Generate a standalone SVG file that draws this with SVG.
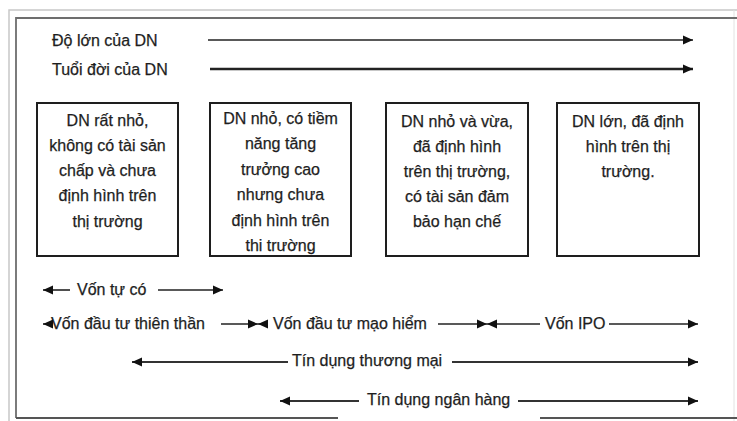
<svg xmlns="http://www.w3.org/2000/svg" width="737" height="421" viewBox="0 0 737 421">
  <style>
    text { font-family: "Liberation Sans", Arial, sans-serif; font-size: 16px; fill: #1e1e1e; stroke: #1e1e1e; stroke-width: 0.25; }
    .c { text-anchor: middle; }
    .box { fill: #fff; stroke: #1e1e1e; stroke-width: 2; }
    .ln { stroke: #222; stroke-width: 1.6; fill: none; }
    .thick { stroke-width: 2.6; }
    .mid { stroke-width: 2; stroke: #333; }
  </style>
  <defs>
    <marker id="head" markerUnits="userSpaceOnUse" markerWidth="11" markerHeight="10" refX="10" refY="5" orient="auto">
      <path d="M0,0.5 L10,5 L0,9.5 z" fill="#111"/>
    </marker>
  </defs>

  <rect width="737" height="421" fill="#fff"/>

  <!-- page frame -->
  <g id="frame" fill="none">
    <path d="M9,421 V10 H737" stroke="#c8c8c8" stroke-width="1.5"/>
    <path d="M734,10 V421" stroke="#e2e2e2" stroke-width="1"/>
    <path d="M16,418 V18 H737" stroke="#6e6e6e" stroke-width="1.8"/>
    <path d="M16,418 H338 M540,418 H737" stroke="#555" stroke-width="1.8"/>
  </g>

  <!-- axis labels -->
  <g id="size-axis">
    <text x="52" y="46">Độ lớn của DN</text>
  </g>
  <g id="age-axis">
    <text x="52" y="75">Tuổi đời của DN</text>
  </g>

  <!-- company stages -->
  <g id="stage-1">
    <rect class="box" x="37" y="103" width="141" height="153"/>
    <text class="c" x="107.5" y="126">DN rất nhỏ,</text>
    <text class="c" x="107.5" y="151">không có tài sản</text>
    <text class="c" x="107.5" y="176">chấp và chưa</text>
    <text class="c" x="107.5" y="201">định hình trên</text>
    <text class="c" x="107.5" y="227">thị trường</text>
  </g>
  <g id="stage-2">
    <rect class="box" x="210" y="103" width="141" height="153"/>
    <text class="c" x="280.5" y="124">DN nhỏ, có tiềm</text>
    <text class="c" x="280.5" y="149">năng tăng</text>
    <text class="c" x="280.5" y="175">trưởng cao</text>
    <text class="c" x="280.5" y="200">nhưng chưa</text>
    <text class="c" x="280.5" y="226">định hình trên</text>
    <text class="c" x="280.5" y="251">thi trường</text>
  </g>
  <g id="stage-3">
    <rect class="box" x="386" y="103" width="142" height="153"/>
    <text class="c" x="457" y="127">DN nhỏ và vừa,</text>
    <text class="c" x="457" y="152">đã định hình</text>
    <text class="c" x="457" y="177">trên thị trường,</text>
    <text class="c" x="457" y="202">có tài sản đảm</text>
    <text class="c" x="457" y="227">bảo hạn chế</text>
  </g>
  <g id="stage-4">
    <rect class="box" x="557" y="103" width="142" height="153"/>
    <text class="c" x="628" y="127">DN lớn, đã định</text>
    <text class="c" x="628" y="152">hình trên thị</text>
    <text class="c" x="628" y="177">trường.</text>
  </g>

  <!-- funding sources -->
  <g id="own-capital">
    <text x="77" y="295">Vốn tự có</text>
  </g>
  <g id="angel">
    <text x="51" y="329">Vốn đầu tư thiên thần</text>
  </g>
  <g id="venture">
    <text x="273" y="329">Vốn đầu tư mạo hiểm</text>
  </g>
  <g id="ipo">
    <text x="545" y="329">Vốn IPO</text>
  </g>
  <g id="trade-credit">
    <text x="292" y="366">Tín dụng thương mại</text>
  </g>
  <g id="bank-credit">
    <text x="367" y="405">Tín dụng ngân hàng</text>
  </g>

  <!-- connectors -->
  <g id="connectors">
    <line class="ln" x1="208" y1="40" x2="693" y2="40" marker-end="url(#head)"/>
    <line class="ln thick" x1="210" y1="69" x2="693" y2="69" marker-end="url(#head)"/>

    <line class="ln" x1="70" y1="290" x2="43" y2="290" marker-end="url(#head)"/>
    <line class="ln" x1="158" y1="290" x2="223" y2="290" marker-end="url(#head)"/>

    <line class="ln" x1="52" y1="324" x2="43" y2="324" marker-end="url(#head)"/>
    <line class="ln" x1="221" y1="324" x2="258" y2="324" marker-end="url(#head)"/>
    <line class="ln" x1="268" y1="324" x2="258" y2="324" marker-end="url(#head)"/>
    <line class="ln" x1="438" y1="324" x2="487" y2="324" marker-end="url(#head)"/>
    <line class="ln" x1="540" y1="324" x2="487" y2="324" marker-end="url(#head)"/>
    <line class="ln" x1="609" y1="324" x2="698" y2="324" marker-end="url(#head)"/>

    <line class="ln mid" x1="288" y1="362" x2="132" y2="362" marker-end="url(#head)"/>
    <line class="ln mid" x1="452" y1="362" x2="698" y2="362" marker-end="url(#head)"/>

    <line class="ln mid" x1="359" y1="401" x2="280" y2="401" marker-end="url(#head)"/>
    <line class="ln mid" x1="518" y1="401" x2="698" y2="401" marker-end="url(#head)"/>
  </g>
</svg>
